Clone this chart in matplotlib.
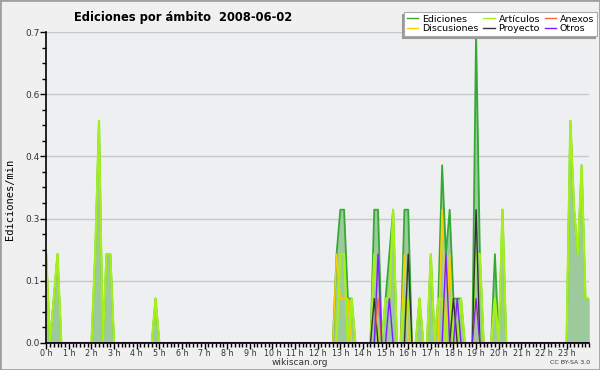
import numpy as np
import matplotlib
matplotlib.use("Agg")
import matplotlib.pyplot as plt
from matplotlib.patches import Rectangle

# 10-minute bins over the day (0..144), values in edits/min
n_bins = 145

ed_bins = [0, 2, 3, 13, 14, 16, 17, 29, 77, 78, 79, 80, 81, 87, 88, 90, 91, 92,
           95, 96, 99, 102, 104, 105, 106, 107, 108, 109, 110, 114, 115, 119,
           121, 139, 140, 141, 142, 143, 144]
ed_vals = [0.2, 0.1, 0.2, 0.2, 0.5, 0.2, 0.2, 0.1, 0.2, 0.3, 0.3, 0.1, 0.1, 0.3,
           0.3, 0.1, 0.2, 0.3, 0.3, 0.3, 0.1, 0.2, 0.1, 0.4, 0.2, 0.3, 0.1, 0.1,
           0.1, 0.7, 0.2, 0.2, 0.3, 0.5, 0.3, 0.2, 0.4, 0.1, 0.1]

art_bins = [0, 2, 3, 13, 14, 16, 17, 29, 78, 79, 81, 87, 90, 91, 92, 95, 96, 99,
            102, 104, 105, 107, 110, 114, 115, 119, 121, 139, 140, 141, 142,
            143, 144]
art_vals = [0.2, 0.1, 0.2, 0.2, 0.5, 0.2, 0.2, 0.1, 0.2, 0.2, 0.1, 0.2, 0.1, 0.1,
            0.3, 0.1, 0.1, 0.1, 0.2, 0.1, 0.1, 0.1, 0.1, 0.2, 0.2, 0.1, 0.3,
            0.5, 0.3, 0.2, 0.4, 0.1, 0.1]

disc_bins = [77, 78, 79, 80, 95, 105, 107, 114, 119]
disc_vals = [0.2, 0.1, 0.1, 0.1, 0.2, 0.3, 0.2, 0.1, 0.1]

anx_bins = [88]
anx_vals = [0.1]

proj_bins = [87, 96, 108, 114]
proj_vals = [0.1, 0.2, 0.1, 0.3]

otros_bins = [88, 91, 106, 109, 114]
otros_vals = [0.2, 0.1, 0.2, 0.1, 0.1]

yticks = [0.0, 0.14, 0.28, 0.42, 0.56, 0.70]
ytick_labels = ["0.0", "0.1", "0.3", "0.4", "0.6", "0.7"]
hours = list(range(24))


def series(bins, vals):
    s = np.zeros(n_bins)
    s[bins] = vals
    return s


t = np.arange(n_bins) / 6.0

fig = plt.figure(figsize=(6, 3.7), dpi=100, facecolor="#f0f0f0")
ax = fig.add_axes([0.077, 0.073, 0.905, 0.8405])
ax.set_facecolor("#eeeff1")

ed = series(ed_bins, ed_vals)
ax.fill_between(t, ed, color="#9cca9c", lw=0, zorder=2)
ax.plot(t, ed, color="#33aa33", lw=1.3, zorder=3, label="Ediciones")
ax.plot(t, series(disc_bins, disc_vals), color="#ffcc00", lw=1.1, zorder=4, label="Discusiones")
ax.plot(t, series(art_bins, art_vals), color="#a6f01a", lw=1.6, zorder=4, label="Artículos")
ax.plot(t, series(proj_bins, proj_vals), color="#333333", lw=1.0, zorder=5, label="Proyecto")
ax.plot(t, series(anx_bins, anx_vals), color="#ff6633", lw=1.0, zorder=5, label="Anexos")
ax.plot(t, series(otros_bins, otros_vals), color="#7f1fff", lw=1.0, zorder=5, label="Otros")

ax.set_xlim(0, 24)
ax.set_ylim(0, 0.7)
ax.set_xticks(hours)
ax.set_xticklabels([f"{h} h" for h in hours])
ax.set_xticks(np.arange(0, 24.01, 1 / 6), minor=True)
ax.set_yticks(yticks)
ax.set_yticklabels(ytick_labels)
ax.set_yticks(np.arange(0, 0.701, 0.035), minor=True)
ax.tick_params(axis="both", which="major", length=4, width=1, labelsize=6.5,
               pad=1, colors="#000000", labelcolor="#333333")
ax.tick_params(axis="x", which="major", labelsize=5.8, pad=0.5)
ax.tick_params(axis="both", which="minor", length=3, width=1)
ax.grid(axis="y", which="major", color="#c8c8c8", lw=1, zorder=1)
ax.set_axisbelow(True)
for sp in ["top", "right"]:
    ax.spines[sp].set_visible(False)
for sp in ["left", "bottom"]:
    ax.spines[sp].set_linewidth(1.2)
    ax.spines[sp].set_zorder(6)

fig.text(0.305, 0.952, "Ediciones por ámbito  2008-06-02", ha="center", va="center",
         fontsize=8.3, fontweight="bold")
fig.text(0.017, 0.46, "Ediciones/min", rotation=90, ha="center", va="center",
         fontsize=7.5, family="DejaVu Sans Mono")
fig.text(0.50, 0.019, "wikiscan.org", ha="center", va="center", fontsize=6.5, color="#333333")
fig.text(0.983, 0.020, "CC BY-SA 3.0", ha="right", va="center", fontsize=4.5, color="#333333")

handles, labels = ax.get_legend_handles_labels()
leg = fig.legend(handles, labels, ncol=3, loc="upper right",
                 bbox_to_anchor=(0.995, 0.968), fontsize=6.8, frameon=True,
                 fancybox=False, edgecolor="#aaaaaa", framealpha=1,
                 handlelength=1.2, handletextpad=0.4, columnspacing=0.5,
                 labelspacing=0.05, borderpad=0.3, borderaxespad=0,
                 shadow={"ox": -1.5, "oy": -1.5, "color": "#999999", "alpha": 1})
leg.get_frame().set_linewidth(0.8)
for line in leg.get_lines():
    line.set_linewidth(1.0)

fig.patches.append(Rectangle((0, 0), 1, 1, transform=fig.transFigure, fill=False,
                             edgecolor="#a0a0a0", lw=2, zorder=0))

fig.savefig("out.png", dpi=100, facecolor=fig.get_facecolor())
